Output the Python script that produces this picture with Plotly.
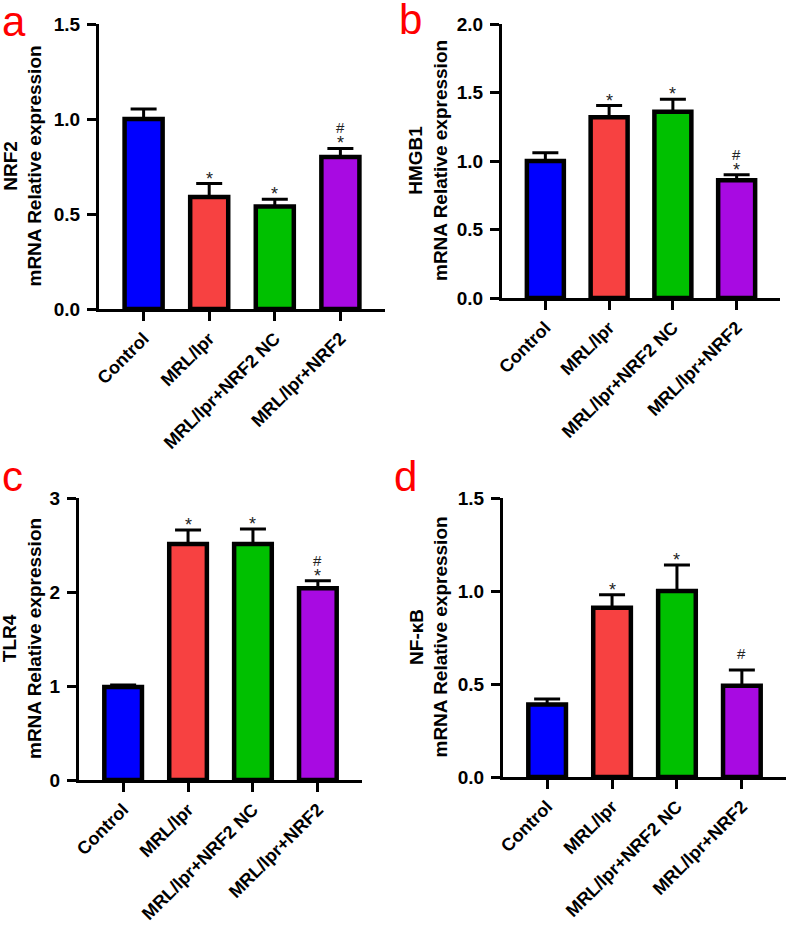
import plotly.graph_objects as go

groups = ["Control", "MRL/lpr", "MRL/lpr+NRF2 NC", "MRL/lpr+NRF2"]
colors = ["#0000FF", "#F74141", "#00C000", "#A80AE2"]

nrf2_mean = [1.00, 0.59, 0.54, 0.80]
nrf2_err = [0.053, 0.07, 0.038, 0.045]
nrf2_marks = ["", "*", "*", "#*"]

hmgb1_mean = [1.00, 1.32, 1.36, 0.86]
hmgb1_err = [0.06, 0.085, 0.09, 0.04]
hmgb1_marks = ["", "*", "*", "#*"]

tlr4_mean = [0.99, 2.51, 2.51, 2.04]
tlr4_err = [0.02, 0.15, 0.16, 0.08]
tlr4_marks = ["", "*", "*", "#*"]

nfkb_mean = [0.39, 0.91, 1.00, 0.49]
nfkb_err = [0.03, 0.07, 0.14, 0.085]
nfkb_marks = ["", "*", "*", "#"]

panels = [
    dict(letter="a", gene="NRF2", mean=nrf2_mean, err=nrf2_err, marks=nrf2_marks,
         yr=[0, 1.5], dt=0.5, fmt=".1f", px=(99, 385), py=(24, 309), let=(14, 21), tx=22),
    dict(letter="b", gene="HMGB1", mean=hmgb1_mean, err=hmgb1_err, marks=hmgb1_marks,
         yr=[0, 2.0], dt=0.5, fmt=".1f", px=(502, 780), py=(24, 298), let=(410, 19), tx=428),
    dict(letter="c", gene="TLR4", mean=tlr4_mean, err=tlr4_err, marks=tlr4_marks,
         yr=[0, 3], dt=1, fmt="d", px=(79, 362), py=(498, 780), let=(12, 477), tx=22),
    dict(letter="d", gene="NF-κB", mean=nfkb_mean, err=nfkb_err, marks=nfkb_marks,
         yr=[0, 1.5], dt=0.5, fmt=".1f", px=(503, 786), py=(498, 777), let=(405, 477), tx=428),
]

W, H = 786, 929


def X(px):
    return px / W


def Y(py):
    return 1 - py / H


FONT = "Arial, Liberation Sans, Helvetica, sans-serif"
fig = go.Figure()
annotations = []
for k, p in enumerate(panels):
    n = "" if k == 0 else str(k + 1)
    xa, ya = "x" + n, "y" + n
    fig.add_trace(go.Bar(
        x=list(range(len(groups))), y=p["mean"], width=0.58,
        marker=dict(color=colors, line=dict(color="black", width=4.5)),
        error_y=dict(type="data", array=p["err"], arrayminus=[0] * 4, symmetric=False,
                     color="black", thickness=3, width=13),
        xaxis=xa, yaxis=ya, showlegend=False,
    ))
    fig.update_layout(**{
        "xaxis" + n: dict(
            domain=[X(p["px"][0]), min(1, X(p["px"][1]))], range=[-0.68, 3.68], anchor=ya,
            tickmode="array", tickvals=list(range(4)), ticktext=groups, tickangle=-45,
            showline=True, linewidth=3, linecolor="black", ticks="outside", ticklen=9,
            tickwidth=3, tickcolor="black", showgrid=False, zeroline=False, automargin=False,
            tickfont=dict(family=FONT, size=18, color="black", weight="bold"),
        ),
        "yaxis" + n: dict(
            domain=[Y(p["py"][1]), Y(p["py"][0])], range=p["yr"], anchor=xa,
            dtick=p["dt"], tick0=0, tickformat=p["fmt"], ticklabelstandoff=3,
            showline=True, linewidth=3, linecolor="black", ticks="outside", ticklen=9,
            tickwidth=3, tickcolor="black", showgrid=False, zeroline=False, automargin=False,
            tickfont=dict(family=FONT, size=19, color="black", weight="bold"),
        ),
    })
    # y title
    annotations.append(dict(
        xref="paper", yref="paper", x=X(p["tx"]), y=Y((p["py"][0] + p["py"][1]) / 2),
        text=p["gene"] + "<br>mRNA Relative expression", textangle=-90, showarrow=False,
        xanchor="center", yanchor="middle",
        font=dict(family=FONT, size=19, color="black", weight="bold"),
    ))
    # panel letter
    annotations.append(dict(
        xref="paper", yref="paper", x=X(p["let"][0]), y=Y(p["let"][1]),
        text=p["letter"], showarrow=False, xanchor="center", yanchor="middle",
        font=dict(family=FONT, size=42, color="#FF0000"),
    ))
    # significance marks
    for i, m in enumerate(p["marks"]):
        top = p["mean"][i] + p["err"][i]
        if "*" in m:
            annotations.append(dict(
                xref=xa, yref=ya, x=i, y=top, text="*", showarrow=False,
                xanchor="center", yanchor="bottom", yshift=-7,
                font=dict(family=FONT, size=18, color="#222222"),
            ))
        if "#" in m:
            annotations.append(dict(
                xref=xa, yref=ya, x=i, y=top, text="#", showarrow=False,
                xanchor="center", yanchor="bottom", yshift=(10 if "*" in m else 6),
                font=dict(family=FONT, size=15, color="#222222"),
            ))

fig.update_layout(
    width=W, height=H, margin=dict(l=0, r=0, t=0, b=0),
    paper_bgcolor="white", plot_bgcolor="white",
    annotations=annotations, bargap=0,
)
fig.write_html(
    "out.html",
    config={"displayModeBar": False, "staticPlot": True},
    post_script="document.body.style.margin='0';document.body.style.overflow='hidden';",
)
